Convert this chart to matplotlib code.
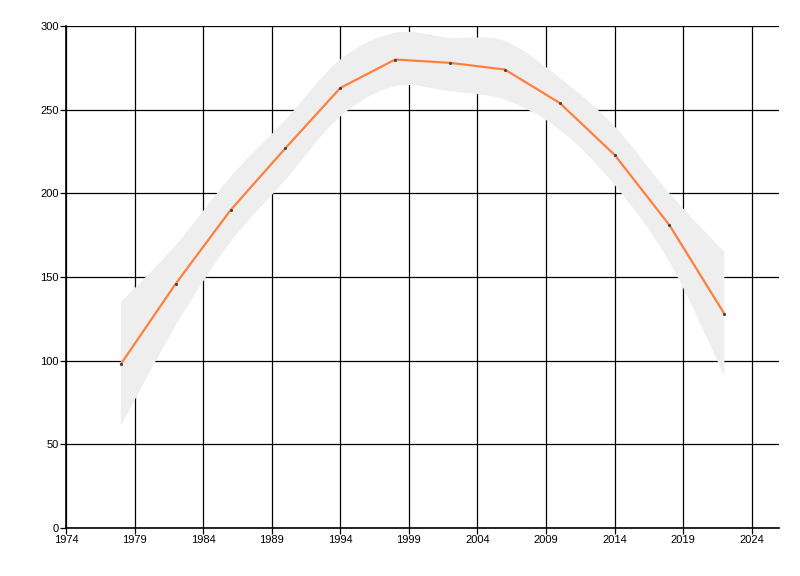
import numpy as np
import matplotlib
matplotlib.use("Agg")
import matplotlib.pyplot as plt
from matplotlib.path import Path
from matplotlib.patches import PathPatch

years = [1978, 1982, 1986, 1990, 1994, 1998, 2002, 2006, 2010, 2014, 2018, 2022]
values = [98, 146, 190, 227, 263, 280, 278, 274, 254, 223, 181, 128]
upper = [135, 169, 210, 244, 280, 296, 293, 291, 269, 240, 200, 165]
lower = [61, 121, 171, 208, 246, 264, 261, 256, 238, 205, 159, 91]

xticks = [1974, 1979, 1984, 1989, 1994, 1999, 2004, 2009, 2014, 2019, 2024]
yticks = [0, 50, 100, 150, 200, 250, 300]


def smooth_codes(xs, ys):
    # catmull-rom -> cubic bezier segments
    pts = np.column_stack([xs, ys]).astype(float)
    verts = [pts[0]]
    codes = [Path.MOVETO]
    n = len(pts)
    for i in range(n - 1):
        p0 = pts[max(i - 1, 0)]
        p1 = pts[i]
        p2 = pts[i + 1]
        p3 = pts[min(i + 2, n - 1)]
        c1 = p1 + (p2 - p0) / 6.0
        c2 = p2 - (p3 - p1) / 6.0
        verts += [c1, c2, p2]
        codes += [Path.CURVE4] * 3
    return verts, codes


plt.rcParams['font.family'] = ['Liberation Sans', 'DejaVu Sans']
fig = plt.figure(figsize=(8, 5.76), dpi=100)
ax = fig.add_axes([0.0825, 0.0833, 0.8915, 0.8715])

uv, uc = smooth_codes(years, upper)
lv, lc = smooth_codes(years[::-1], lower[::-1])
verts = uv + [lv[0]] + lv[1:] + [uv[0]]
codes = uc + [Path.LINETO] + lc[1:] + [Path.CLOSEPOLY]
band = PathPatch(Path(verts, codes), facecolor='#eeeeee', edgecolor='none', zorder=2)
ax.add_patch(band)

ax.plot(years, values, color='#ff7f3f', lw=1.6, zorder=3)
ax.scatter(years, values, s=5, color='#444444', zorder=4, linewidths=0)

ax.set_xlim(1974, 2026)
ax.set_ylim(0, 300)
ax.set_xticks(xticks)
ax.set_yticks(yticks)
ax.grid(True, color='black', lw=0.9, zorder=1)
ax.set_axisbelow(True)
for s in ['top', 'right']:
    ax.spines[s].set_visible(False)
for s in ['left', 'bottom']:
    ax.spines[s].set_linewidth(1.2)
ax.tick_params(axis='both', direction='out', length=4, width=0.9, labelsize=8, pad=1)

fig.savefig('out.png', dpi=100)
